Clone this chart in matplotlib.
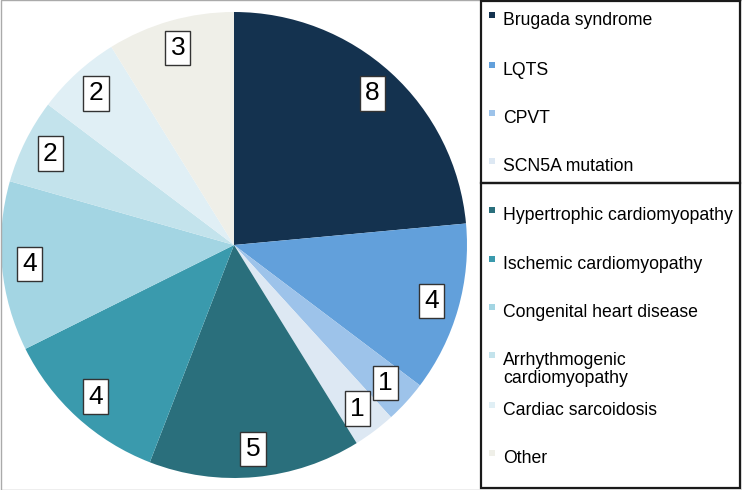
import matplotlib.pyplot as plt
from matplotlib.patches import Rectangle
import numpy as np

plt.rcParams['font.family'] = ['Liberation Sans', 'DejaVu Sans']

# Datos
categorias = ['Brugada syndrome', 'LQTS', 'CPVT', 'SCN5A mutation',
              'Hypertrophic cardiomyopathy', 'Ischemic cardiomyopathy',
              'Congenital heart disease', 'Arrhythmogenic\ncardiomyopathy',
              'Cardiac sarcoidosis', 'Other']
valores = [8, 4, 1, 1, 5, 4, 4, 2, 2, 3]
colores = ['#14324f', '#62a0db', '#9dc3ea', '#dde8f3',
           '#2a6f7c', '#3a9aad', '#a3d5e3', '#c3e3ec',
           '#e0eff5', '#efefe8']

W, H = 742, 490
fig = plt.figure(figsize=(W / 100, H / 100), dpi=100)

# Pie: centro (234, 245), radio ~233 px
cx, cy, r = 234, 245, 233
ax = fig.add_axes([(cx - r) / W, (H - cy - r) / H, 2 * r / W, 2 * r / H])
ax.pie(valores, colors=colores, startangle=90, counterclock=False,
       radius=1.0, wedgeprops=dict(linewidth=0))
ax.set_xlim(-1, 1)
ax.set_ylim(-1, 1)
ax.set_aspect('auto')
ax.axis('off')

# Etiquetas con caja
total = sum(valores)
acum = 0
for v in valores:
    mid = 90 - (acum + v / 2) / total * 360
    acum += v
    x = 0.88 * np.cos(np.radians(mid))
    y = 0.88 * np.sin(np.radians(mid))
    ax.text(x, y, str(v), ha='center', va='center', fontsize=19,
            bbox=dict(boxstyle='square,pad=0.2', fc='white', ec='#333333', lw=1))

# Borde gris de la figura
fig.patches.append(Rectangle((0.5 / W, 0.5 / H), 1 - 1 / W, 1 - 1 / H,
                             transform=fig.transFigure, fill=False,
                             ec='#aaaaaa', lw=1))

# Cajas de la leyenda
x0, x1 = 481, 740
for (ya, yb) in [(1, 183), (183, 488)]:
    fig.patches.append(Rectangle((x0 / W, (H - yb) / H), (x1 - x0) / W, (yb - ya) / H,
                                 transform=fig.transFigure, fill=False,
                                 ec='#1a1a1a', lw=1.6))

# Entradas de la leyenda
ys = [18, 68, 116, 164, 213, 262, 310, 358, 408, 456]
for lab, col, yy in zip(categorias, colores, ys):
    fig.patches.append(Rectangle((489 / W, (H - yy) / H), 6 / W, 6 / H,
                                 transform=fig.transFigure, fc=col, ec='none'))
    fig.text(503 / W, (H - yy + 6) / H, lab, ha='left', va='top',
             fontsize=12.7, linespacing=1.1)

fig.savefig('out.png', dpi=100)
